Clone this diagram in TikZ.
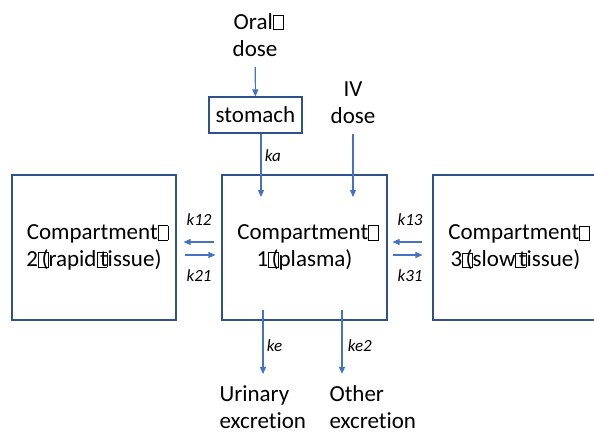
\documentclass[tikz,border=0pt]{standalone}
\usepackage{fontspec}
\setmainfont{Carlito}[Ligatures={NoCommon}]
\usetikzlibrary{arrows.meta}

\definecolor{boxblue}{HTML}{2F528F}
\definecolor{arrowblue}{HTML}{4472C4}

\begin{document}
\begin{tikzpicture}[x=1pt, y=-1pt,
  >={Triangle[length=7pt,width=6pt]},
  font=\fontsize{23}{27}\selectfont,
  comp/.style={draw=boxblue, line width=1.1pt, minimum width=164pt,
    minimum height=145pt, align=center},
  rate/.style={font=\fontsize{17}{20}\selectfont\itshape},
  flow/.style={->, draw=arrowblue, fill=arrowblue, line width=1.1pt}]

  \newcommand\gapbox{\rlap{\setlength\fboxsep{0pt}\setlength\fboxrule{0.5pt}%
    \fbox{\rule{0pt}{0.6em}\hspace{0.42em}}}\kern0.15em}

  \useasboundingbox (0,0) rectangle (594,433);

  % compartments
  \node[comp] (c2) at (94,247.5) {Compartment\gapbox\\2\gapbox(rapid\gapbox tissue)};
  \node[comp, minimum width=165pt] (c1) at (304.5,247.5) {Compartment\gapbox\\1\gapbox(plasma)};
  \node[comp, minimum width=165pt] (c3) at (515.5,247.5) {Compartment\gapbox\\3\gapbox(slow\gapbox tissue)};

  % dosing
  \node[align=center] (oral) at (255,35) {Oral\gapbox\\dose};
  \node[draw=boxblue, line width=1.1pt, minimum width=93pt, minimum height=36pt]
    (stomach) at (255.5,115) {stomach};
  \node[align=center] (iv) at (353,103) {IV\\dose};

  % excretion
  \node[align=left, anchor=west] (urin) at (216,407) {Urinary\\excretion};
  \node[align=left, anchor=west] (other) at (326,407) {Other\\excretion};

  \coordinate (kaend) at (261,197);
  \coordinate (ivend) at (353,197);
  \coordinate (ketop) at (263,310);
  \coordinate (ke2top) at (342,310);
  \coordinate (upper) at (0,242);
  \coordinate (lower) at (0,255);

  \draw[flow, shorten <=7pt] (oral) -- (stomach);
  \draw[flow] (stomach.south -| kaend) -- node[rate, right, pos=0.35]{ka} (kaend);
  \draw[flow, shorten <=7pt] (iv.south -| ivend) -- (ivend);

%  between compartments
  \draw[flow, shorten <=7pt, shorten >=7pt] (c1.west |- upper) -- node[rate, above=13pt]{k12} (c2.east |- upper);
  \draw[flow, shorten <=8pt, shorten >=6pt] (c2.east |- lower) -- node[rate, below=11pt]{k21} (c1.west |- lower);
  \draw[flow, shorten <=10pt, shorten >=5pt] (c3.west |- upper) -- node[rate, above=13pt]{k13} (c1.east |- upper);
  \draw[flow, shorten <=5pt, shorten >=10pt] (c1.east |- lower) -- node[rate, below=11pt]{k31} (c3.west |- lower);

  \draw[flow, shorten >=8pt] (ketop) -- node[rate, right]{ke} (ketop |- urin.north);
  \draw[flow, shorten >=8pt] (ke2top) -- node[rate, right, xshift=2pt]{ke2} (ke2top |- other.north);

\end{tikzpicture}
\end{document}
